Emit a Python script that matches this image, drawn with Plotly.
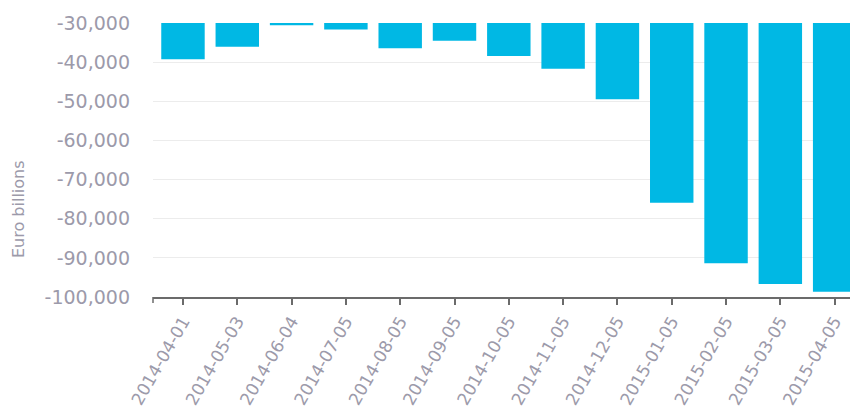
import plotly.graph_objects as go

dates = ["2014-04-01", "2014-05-03", "2014-06-04", "2014-07-05", "2014-08-05",
         "2014-09-05", "2014-10-05", "2014-11-05", "2014-12-05", "2015-01-05",
         "2015-02-05", "2015-03-05", "2015-04-05"]
values = [-39250, -36050, -30550, -31650, -36450, -34550, -38400, -41700,
          -49500, -75900, -91400, -96700, -98650]
y_ticks = [-30000, -40000, -50000, -60000, -70000, -80000, -90000, -100000]
y_title = "Euro billions"

BAR = "#00b8e4"
TXT = "#9c9aaa"
AX = "#6b6b6b"
FONT = "DejaVu Sans, Verdana, sans-serif"

fig = go.Figure(go.Bar(
    x=list(range(len(dates))), y=values, marker=dict(color=BAR, line=dict(width=0)),
    width=0.8,
))

# page body has an 8px margin; offsets below are relative to the figure
W, H = 850, 402
T, B, L, R = 15, 113, 145, 0
plot_h = H - T - B
plot_w = W - L - R
fig.update_layout(
    width=W, height=H,
    margin=dict(l=L, r=R, t=T, b=B, autoexpand=False),
    paper_bgcolor="white", plot_bgcolor="white",
    showlegend=False,
    font=dict(family=FONT, color=TXT),
    xaxis=dict(
        range=[-0.552, 12.43], automargin=False,
        tickmode="array", tickvals=list(range(len(dates))), ticktext=dates,
        tickangle=-60, tickfont=dict(size=17, color=TXT),
        showline=True, linecolor=AX, linewidth=1.5,
        ticks="outside", ticklen=6, tickcolor=AX, tickwidth=1.5,
        showgrid=False, zeroline=False,
    ),
    yaxis=dict(
        range=[-100000, -30000], automargin=False,
        tickmode="array", tickvals=y_ticks,
        ticktext=[f"{v:,}" for v in y_ticks],
        tickfont=dict(size=19, color=TXT),
        showgrid=True, gridcolor="#ececec", gridwidth=1,
        zeroline=False, showline=False, ticks="", ticklabelstandoff=22,
    ),
    annotations=[dict(text=y_title, xref="paper", yref="paper",
                      x=(10 - L) / plot_w, y=(T + plot_h - 201) / plot_h,
                      xanchor="center", yanchor="middle", textangle=-90,
                      showarrow=False, font=dict(size=16, color=TXT, family=FONT))],
    shapes=[dict(type="line", xref="paper", yref="paper", x0=0, x1=0,
                 y0=0, y1=-6 / plot_h, line=dict(color=AX, width=1.5))],
)

fig.write_html("out.html")
